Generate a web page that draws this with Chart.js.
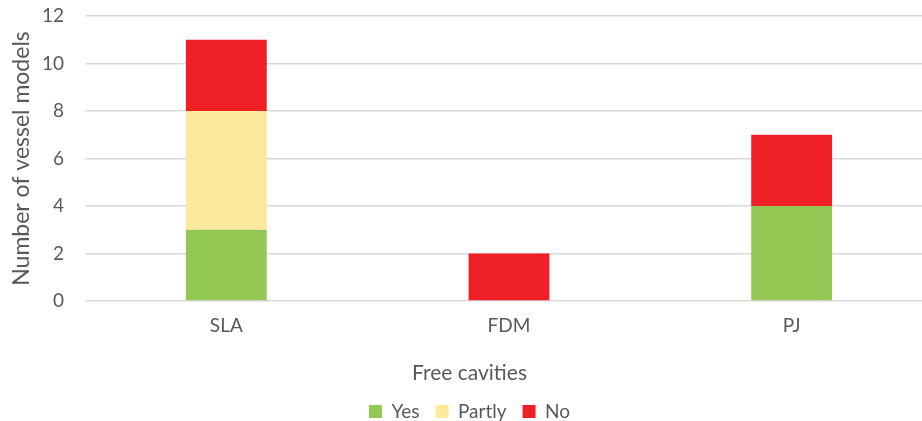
<!DOCTYPE html>
<html>
<head>
<meta charset="utf-8">
<script src="https://cdn.jsdelivr.net/npm/chart.js@4/dist/chart.umd.min.js"></script>
<style>
  html, body { margin: 0; padding: 0; background: #fff; overflow: hidden; }
  #wrap { width: 950px; height: 421px; }
</style>
</head>
<body>
<div id="wrap"><canvas id="chart"></canvas></div>
<script>
const categories = ['SLA', 'FDM', 'PJ'];
const yesValues = [3, 0, 4];
const partlyValues = [5, 0, 0];
const noValues = [3, 2, 3];
const yTicks = [0, 2, 4, 6, 8, 10, 12];

const FONT = 'Lato, "Liberation Sans", sans-serif';
const GREY = '#595959';

// the legend sits very close to the bottom edge, so trim its box a bit
const tightLegend = {
    id: 'tightLegend',
    beforeLayout(chart) {
        const lg = chart.legend;
        if (lg && !lg._tight) {
            const fit = lg.fit.bind(lg);
            lg.fit = function () { fit(); this.height -= 10; };
            lg._tight = true;
        }
    }
};

const ctx = document.getElementById('chart').getContext('2d');

const chart = new Chart(ctx, {
    type: 'bar',
    data: {
        labels: categories,
        datasets: [
            { label: 'Yes', data: yesValues, backgroundColor: '#92c853' },
            { label: 'Partly', data: partlyValues, backgroundColor: '#fbe99e' },
            { label: 'No', data: noValues, backgroundColor: '#ee1f25' }
        ]
    },
    options: {
        responsive: true,
        maintainAspectRatio: false,
        animation: false,
        datasets: {
            bar: { categoryPercentage: 1, barPercentage: 0.286 }
        },
        layout: { padding: { top: 16, right: 17, left: 6, bottom: 0 } },
        scales: {
            x: {
                stacked: true,
                grid: { display: false, drawTicks: false },
                border: { display: false },
                ticks: { color: GREY, font: { family: FONT, size: 19 }, padding: 13 }
            },
            y: {
                stacked: true,
                min: 0,
                max: 12,
                afterBuildTicks: (axis) => { axis.ticks = yTicks.map(v => ({ value: v })); },
                afterFit: (axis) => { axis.paddingTop = 0; axis.width = 79; },
                grid: { color: '#d9d9d9', lineWidth: 1.5, drawTicks: false },
                border: { display: false },
                ticks: { color: GREY, font: { family: FONT, size: 19 }, padding: 21 },
                title: {
                    display: true,
                    text: 'Number of vessel models',
                    color: GREY,
                    font: { family: FONT, size: 23 },
                    padding: { top: 2, bottom: 8 }
                }
            }
        },
        plugins: {
            title: {
                display: true,
                position: 'bottom',
                text: 'Free cavities',
                color: GREY,
                weight: 500,
                font: { family: FONT, size: 21, weight: 'normal' },
                padding: { top: 11, bottom: 0 }
            },
            legend: {
                position: 'bottom',
                labels: {
                    color: GREY,
                    font: { family: FONT, size: 19 },
                    boxWidth: 13,
                    boxHeight: 13,
                    padding: 16
                }
            },
            tooltip: { enabled: false }
        }
    },
    plugins: [tightLegend]
});
</script>
</body>
</html>
